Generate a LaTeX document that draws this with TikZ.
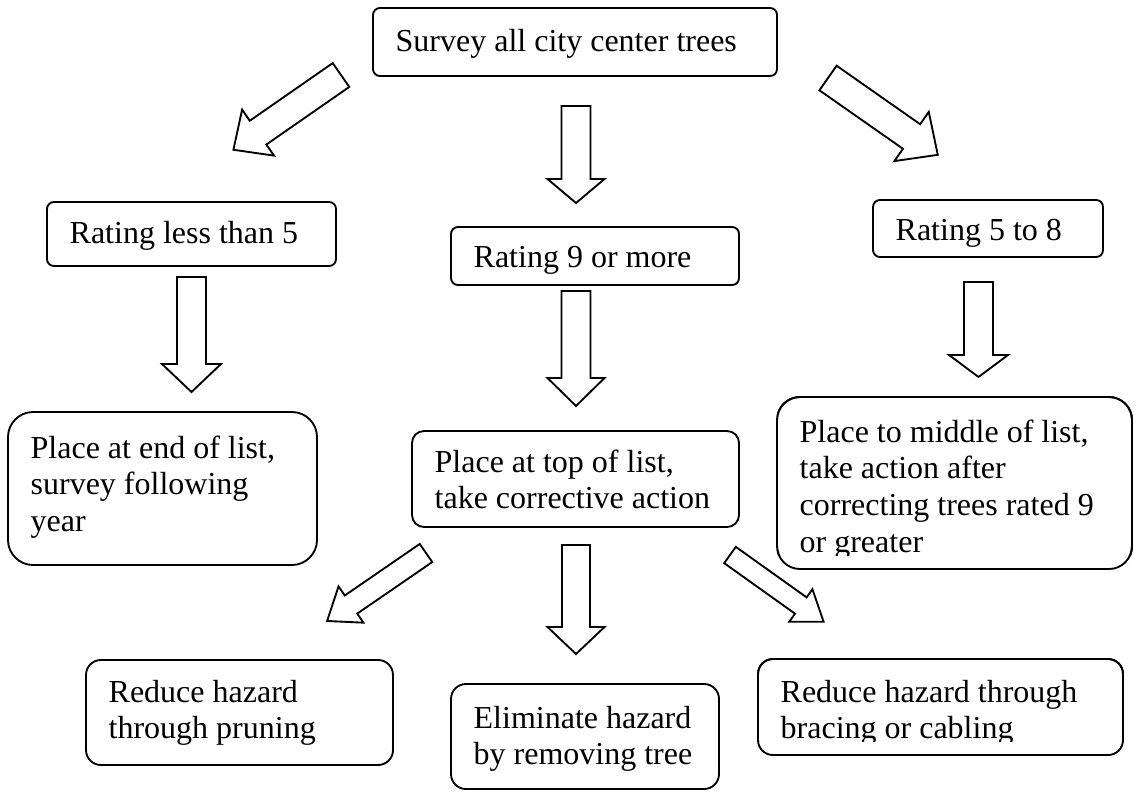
\documentclass[tikz,border=0pt]{standalone}
\usepackage{fontspec}
\setmainfont{Liberation Serif}
\tikzset{
  box/.style={rectangle, draw, line width=0.7pt, rounded corners=#1, align=flush left,
              anchor=north west, inner xsep=8.5pt, inner ysep=0pt, outer sep=0pt,
              font=\fontsize{12pt}{13.8pt}\selectfont},
  box/.default=2.6pt,
  rim/.style={draw, line width=0.7pt, rounded corners=#1},
  pics/blkarrow/.style args={#1/#2/#3/#4}{code={
    % length / shaft width / head width / head length
    \draw[line width=0.7pt, fill=white, line join=miter]
      (0,-#2/2) -- (#1-#4,-#2/2) -- (#1-#4,-#3/2) -- (#1,0)
      -- (#1-#4,#3/2) -- (#1-#4,#2/2) -- (0,#2/2) -- cycle;
  }},
}

\begin{document}
\begin{tikzpicture}[x=0.375pt,y=-0.375pt]
\useasboundingbox (0,0) rectangle (1134,792);

% ---------------- first row ----------------------------------------------------
\node[box, text width=134.5pt, text height=16.125pt, text depth=9.375pt] (survey) at (373,8)
  {Survey all city center trees};

% ---------------- ratings ------------------------------------------------------
\node[box, text width=91.375pt, text height=15.375pt, text depth=8.625pt] (low) at (47,202)
  {Rating less than 5};
\node[box, text width=91pt, text height=15pt, text depth=6.75pt] (high) at (451,227)
  {Rating 9 or more};
\node[box, text width=69.25pt, text height=15pt, text depth=6.375pt] (mid) at (873,200)
  {Rating 5 to 8};

% ---------------- list placement -----------------------------------------------
\node[box=9.4pt, text width=98.875pt, text height=17.25pt, text depth=40.125pt] (endlist) at (8,412)
  {Place at end of list,\\ survey following\\ year};
\node[box=4.5pt, text width=105.625pt, text height=15.375pt, text depth=20.625pt] (toplist) at (412,431)
  {Place at top of list,\\ take corrective action};
\begin{scope}
  \clip (777,395) rectangle (1134,555);
  \node[box=8.6pt, text width=116.125pt, text height=16.875pt, text depth=47.625pt] (midlist) at (777,397)
    {Place to middle of list,\\ take action after\\ correcting trees rated 9\\ or greater};
\end{scope}
\draw[rim=8.6pt] (midlist.north west) rectangle (midlist.south east);

% ---------------- corrective actions -------------------------------------------
\node[box=5.6pt, text width=98.125pt, text height=15.75pt, text depth=23.625pt] (prune) at (86,660)
  {Reduce hazard\\ through pruning};
\node[box=5.6pt, text width=83.5pt, text height=16.5pt, text depth=22.875pt] (remove) at (451,684)
  {Eliminate hazard\\ by removing tree};
\begin{scope}
  \clip (756,657) rectangle (1126,741);
  \node[box=5.6pt, text width=119.875pt, text height=16.125pt, text depth=19.875pt] (brace) at (758,659)
    {Reduce hazard through\\ bracing or cabling};
\end{scope}
\draw[rim=5.6pt] (brace.north west) rectangle (brace.south east);

% ---------------- block arrows -------------------------------------------------
\foreach \x/\y/\a/\l/\sw/\hw/\hl in {
    576/106/-90/97/29/57/24, 341/75/214.8/131/29/56/30, 828/78/-35/134/30/60/32,
    191.5/277/-90/115/29/59/28, 576/291/-90/115/29/57/28, 978.5/282/-90/95/29/59/22,
    576/545/-90/109/28/57/27, 426/553/214.5/120/22/44/29, 730/555/-35.5/115/20/40/28}
  \pic[rotate=\a] at (\x,\y) {blkarrow=\l/\sw/\hw/\hl};

\end{tikzpicture}
\end{document}
